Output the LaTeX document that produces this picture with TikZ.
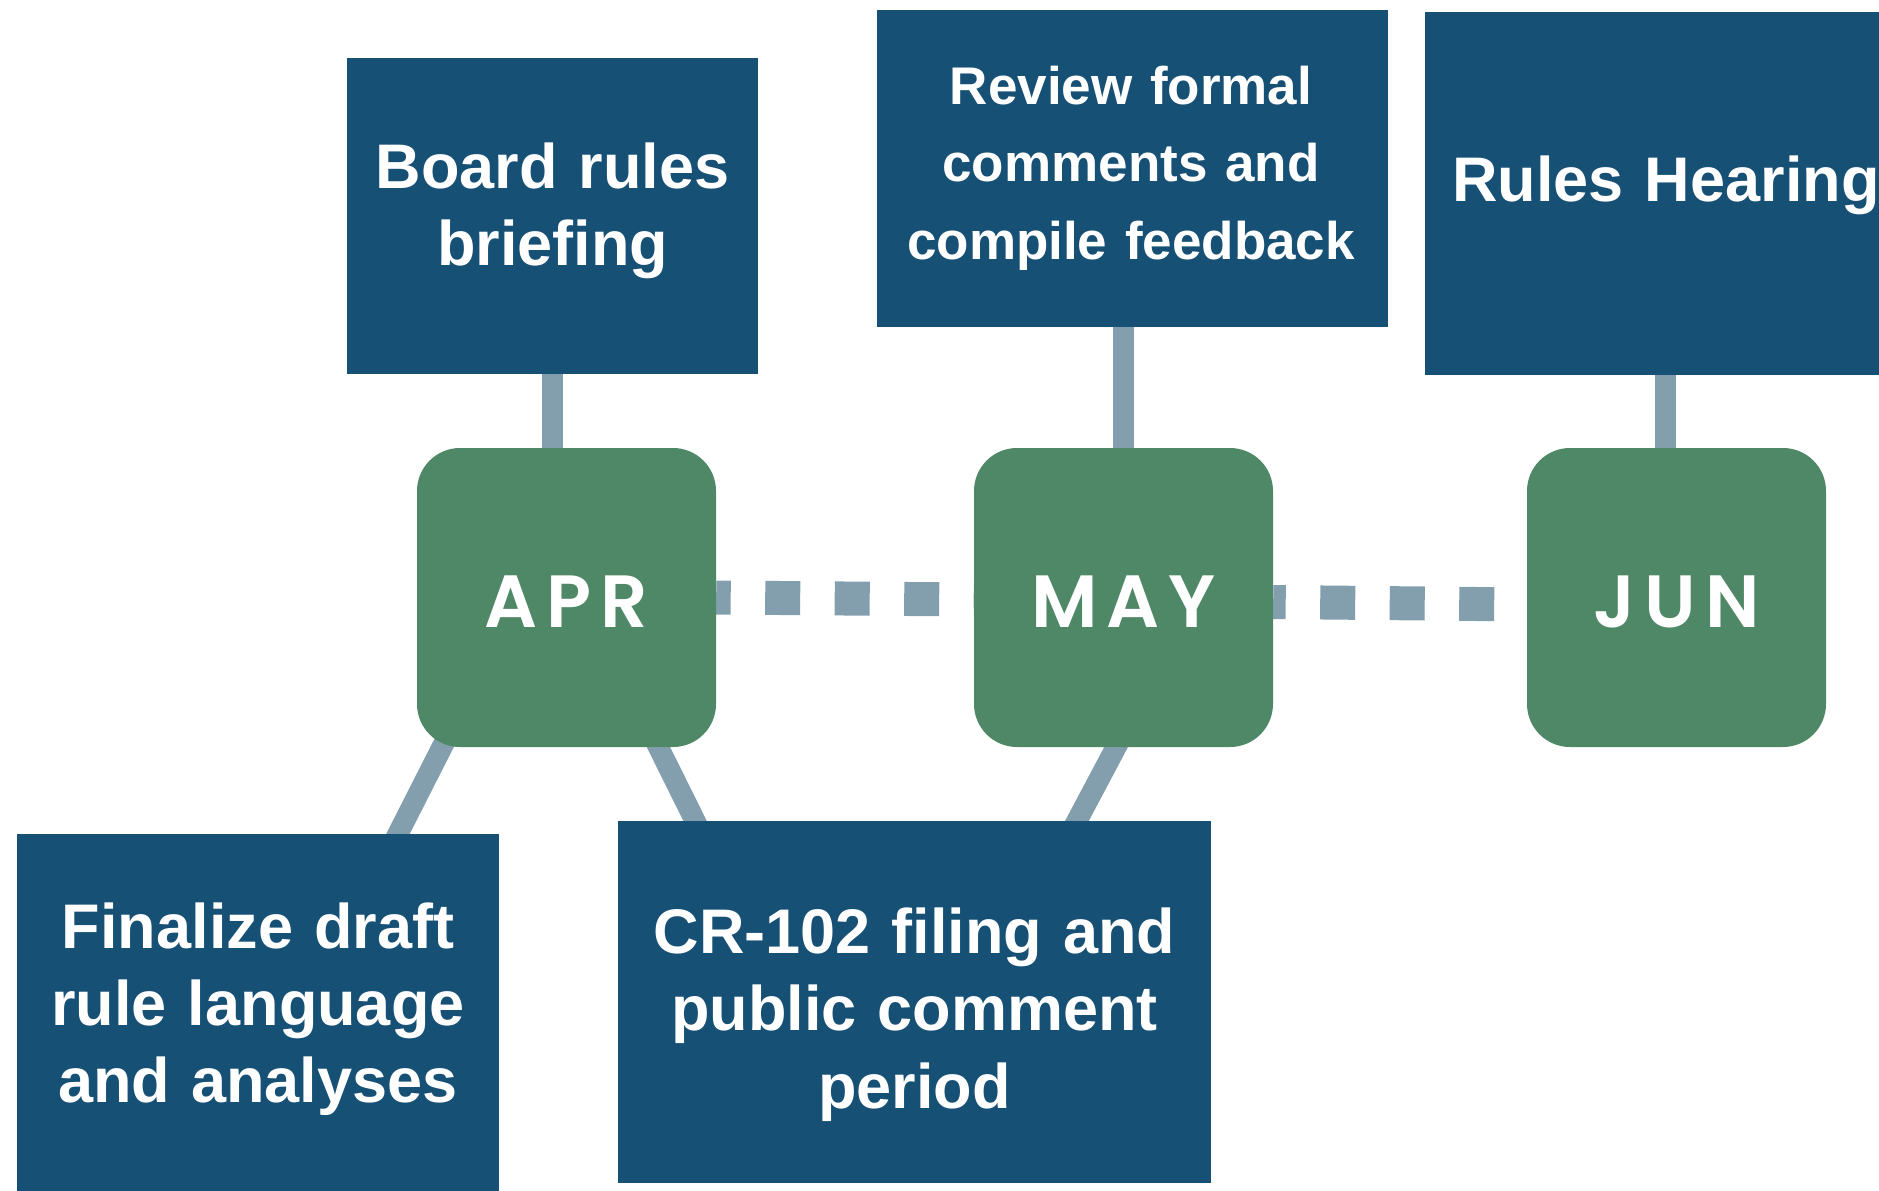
\documentclass[tikz,border=0pt]{standalone}
\usepackage{fontspec}
\usepackage{tikz}
\usepackage{color}
\setmainfont{Liberation Sans}
\newfontfamily\monthfont{Poppins SemiBold}[LetterSpace=12]

\definecolor{taskblue}{HTML}{175075}
\definecolor{monthgreen}{HTML}{4F8866}
\definecolor{linkgray}{HTML}{839FAD}

\pgfdeclarelayer{back}
\pgfsetlayers{back,main}

\tikzset{
	taskbox/.style={fill=taskblue, inner sep=0pt},
	tasktext/.style={text=white, anchor=base, align=center, inner sep=0pt, font=\bfseries\fontsize{63pt}{77pt}\selectfont},
	monthbox/.style={fill=monthgreen, rounded corners=43pt, minimum width=299pt, minimum height=299pt, inner sep=0pt, text=white, text height=59pt, text depth=0pt, font=\monthfont\fontsize{74pt}{80pt}\selectfont},
	link/.style={draw=linkgray, line width=21pt},
	dotlink/.style={draw=linkgray, line width=34pt, dash pattern=on 35pt off 34.5pt}
}

\begin{document}
\begin{tikzpicture}[x=1pt, y=-1pt]
		\useasboundingbox (0,0) rectangle (1879,1191);
		\clip (0,0) rectangle (1879,1191);

		\node[monthbox] (apr) at (566.5,597.5) {APR};
		\node[monthbox] (may) at (1123.5,597.5) {MAY};
		\node[monthbox] (jun) at (1676.5,597.5) {JUN};

		\node[taskbox, minimum width=411pt, minimum height=316pt] (board) at (552.5,216) {};
		\node[taskbox, minimum width=511pt, minimum height=317pt] (review) at (1132.5,168.5) {};
		\node[taskbox, minimum width=480pt, minimum height=363pt] (hearing) at (1665,193.5) {};
		\node[taskbox, minimum width=482pt, minimum height=366pt] (finalize) at (258,1017) {};
		\node[taskbox, minimum width=593pt, minimum height=362pt] (filing) at (914.5,1002) {};

		\node[tasktext, text width=400pt] (boardtxt) at (552.5,188) {Board rules\\briefing};
		\node[tasktext, text width=500pt, font=\bfseries\fontsize{53pt}{77.5pt}\selectfont] (reviewtxt) at (1131,104) {Review formal\\comments and\\compile feedback};
		\node[tasktext, text width=470pt] (hearingtxt) at (1666,201) {Rules Hearing};
		\node[tasktext, text width=470pt] (finalizetxt) at (258,948) {Finalize draft\\rule language\\and analyses};
		\node[tasktext, text width=580pt, font=\bfseries\fontsize{63pt}{77.5pt}\selectfont] (filingtxt) at (914.5,953) {CR-102 filing and\\public comment\\period};

		\begin{pgfonlayer}{back}
			\draw[dotlink, dash phase=20.5pt] (apr.east) -- ([yshift=-2pt]may.west);
			\draw[dotlink, dash phase=22.5pt] ([yshift=-4.5pt]may.east) -- ([yshift=-7pt]jun.west);

			\draw[link, shorten <=-20pt, shorten >=-20pt] (board.south) -- (board.south |- apr.north);
			\draw[link, shorten <=-20pt, shorten >=-20pt] (may.north) -- (may.north |- review.south);
			\draw[link, shorten <=-20pt, shorten >=-20pt] (hearing.south) -- (hearing.south |- jun.north);

			\draw[link, shorten <=-20pt, shorten >=-20pt] ([xshift=-124.5pt]apr.south) -- ([xshift=140pt]finalize.north);
			\draw[link, shorten <=-20pt, shorten >=-20pt] ([xshift=92pt]apr.south) -- ([xshift=-219.5pt]filing.north);
			\draw[link, shorten <=-20pt, shorten >=-20pt] ([xshift=-7.5pt]may.south) -- ([xshift=162.5pt]filing.north);
		\end{pgfonlayer}
	\end{tikzpicture}
\end{document}
